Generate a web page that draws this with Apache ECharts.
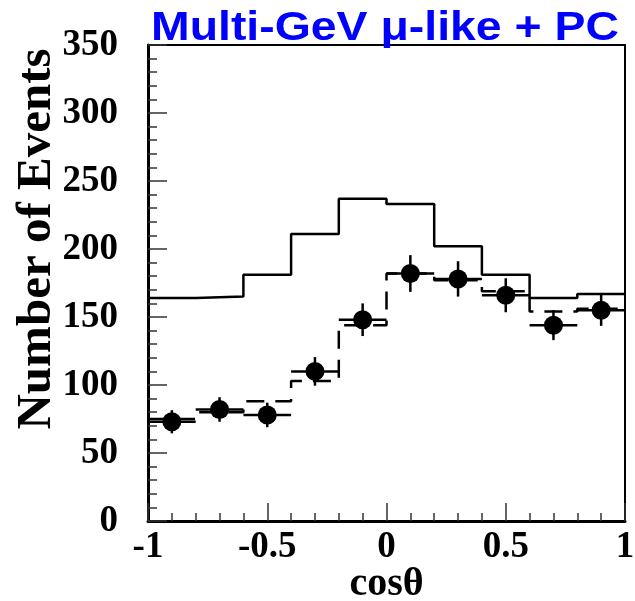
<!DOCTYPE html>
<html>
<head>
<meta charset="utf-8">
<script src="https://cdn.jsdelivr.net/npm/echarts@6/dist/echarts.min.js"></script>
<style>
  html, body { margin: 0; padding: 0; background: #fff; }
  #chart { width: 635px; height: 601px; }
</style>
</head>
<body>
<div id="chart"></div>
<script>
// Zenith-angle distribution, bins of 0.2 in cos(theta)
const binEdges = [-1, -0.8, -0.6, -0.4, -0.2, 0, 0.2, 0.4, 0.6, 0.8, 1];
const binCenters = [-0.9, -0.7, -0.5, -0.3, -0.1, 0.1, 0.3, 0.5, 0.7, 0.9];

// Monte Carlo without oscillation (solid histogram)
const mcNoOsc = [164, 165, 181, 211, 237, 233, 202, 181, 164, 167];
// Monte Carlo with oscillation (dashed histogram)
const mcOsc = [75, 80, 88, 103, 144, 182, 177, 169, 154, 156];
// Observed events and their statistical errors
const dataEvents = [73, 82, 78, 110, 148, 182, 178, 166, 144, 155];
const dataErr = [8.5, 9, 9, 10.5, 12, 13.5, 13, 12.5, 11, 11.5];

const xTicks = [-1, -0.5, 0, 0.5, 1];
const yTicks = [0, 50, 100, 150, 200, 250, 300, 350];

const titleText = 'Multi-GeV \u03bc-like + PC';
const xTitle = 'cos\u03b8';
const yTitle = 'Number of Events';

// histogram outline: value held from each left edge, closed at the last edge
function stepData(vals) {
  return binEdges.map((e, i) => [e, vals[Math.min(i, vals.length - 1)]]);
}

const pointData = binCenters.map((c, i) => [
  c, dataEvents[i], dataErr[i], (binEdges[i + 1] - binEdges[i]) / 2
]);

const serif = '"Liberation Serif", "DejaVu Serif", serif';

const chart = echarts.init(document.getElementById('chart'), null, { renderer: 'canvas' });

chart.setOption({
  animation: false,
  backgroundColor: '#fff',
  grid: {
    left: 148, top: 45, right: 10, bottom: 80,
    containLabel: false, outerBoundsMode: 'none',
    show: true, borderColor: '#000', borderWidth: 2, backgroundColor: 'transparent'
  },
  xAxis: {
    type: 'value',
    min: xTicks[0], max: xTicks[xTicks.length - 1], interval: 0.5,
    axisLine: { show: true, onZero: false, lineStyle: { color: '#000', width: 3 } },
    axisTick: { show: true, inside: true, length: 18, lineStyle: { color: '#333', width: 1.5 } },
    minorTick: { show: true, splitNumber: 5, length: 8, lineStyle: { color: '#333', width: 1.5 } },
    splitLine: { show: false },
    axisLabel: {
      margin: 8, color: '#000', fontFamily: serif, fontWeight: 'bold', fontSize: 37,
      showMinLabel: true, showMaxLabel: true
    },
    name: xTitle, nameLocation: 'middle', nameGap: 44, nameMoveOverlap: false,
    nameTextStyle: { color: '#000', fontFamily: serif, fontWeight: 'bold', fontSize: 40 }
  },
  yAxis: {
    type: 'value',
    min: yTicks[0], max: yTicks[yTicks.length - 1], interval: 50,
    axisLine: { show: true, onZero: false, lineStyle: { color: '#000', width: 3 } },
    axisTick: { show: true, inside: true, length: 19, lineStyle: { color: '#333', width: 1.5 } },
    minorTick: { show: true, splitNumber: 5, length: 9, lineStyle: { color: '#333', width: 1.5 } },
    splitLine: { show: false },
    axisLabel: {
      margin: 30, color: '#000', fontFamily: serif, fontWeight: 'bold', fontSize: 37,
      showMinLabel: true, showMaxLabel: true
    }
  },
  graphic: [
    {
      type: 'text', x: 385, y: 29, scaleX: 1.16, z: 100,
      style: {
        text: titleText, fill: '#0000ff',
        fontFamily: '"Liberation Sans", Arial, sans-serif', fontWeight: 'bold', fontSize: 40,
        align: 'center', verticalAlign: 'middle'
      }
    },
    {
      type: 'text', x: 37, y: 239, rotation: Math.PI / 2, z: 100,
      style: {
        text: yTitle, fill: '#000',
        fontFamily: serif, fontWeight: 'bold', fontSize: 49,
        align: 'center', verticalAlign: 'middle'
      }
    }
  ],
  series: [
    {
      name: 'MC (no oscillation)',
      type: 'line', step: 'end', data: stepData(mcNoOsc),
      symbol: 'none', lineStyle: { color: '#000', width: 2.5 }, z: 3
    },
    {
      name: 'MC (oscillation)',
      type: 'line', step: 'end', data: stepData(mcOsc),
      symbol: 'none', lineStyle: { color: '#000', width: 2.5, type: [18, 11] }, z: 3
    },
    {
      name: 'Data errors',
      type: 'custom', data: pointData, z: 4,
      renderItem: function (params, api) {
        const x = api.value(0), y = api.value(1), e = api.value(2), hw = api.value(3);
        const top = api.coord([x, y + e]);
        const bot = api.coord([x, y - e]);
        const l = api.coord([x - hw, y]);
        const r = api.coord([x + hw, y]);
        const st = { stroke: '#000', lineWidth: 2.5 };
        return {
          type: 'group',
          children: [
            { type: 'line', shape: { x1: top[0], y1: top[1], x2: bot[0], y2: bot[1] }, style: st },
            { type: 'line', shape: { x1: l[0], y1: l[1], x2: r[0], y2: r[1] }, style: st }
          ]
        };
      }
    },
    {
      name: 'Data',
      type: 'scatter', data: pointData.map(p => [p[0], p[1]]),
      symbol: 'circle', symbolSize: 19, itemStyle: { color: '#000', opacity: 1 }, z: 5
    }
  ]
});
</script>
</body>
</html>
